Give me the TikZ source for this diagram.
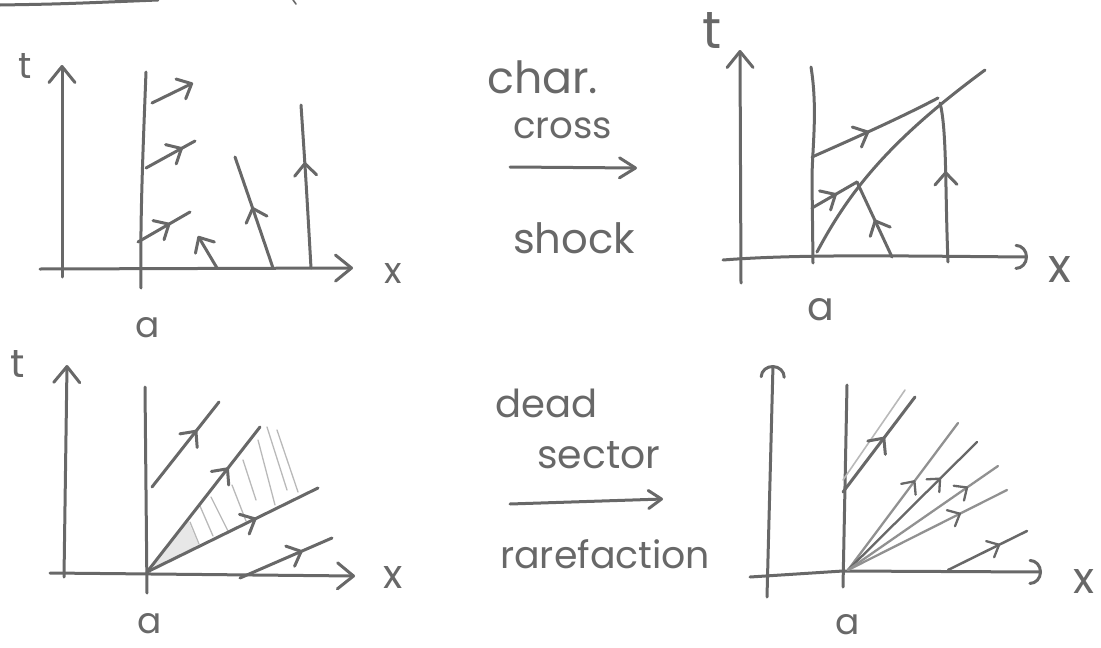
\documentclass[tikz,border=0pt]{standalone}
\usepackage{fontspec}
\usepackage{graphicx}
\newfontfamily\hwfont{Poppins}
\usetikzlibrary{arrows.meta,decorations.markings}
\definecolor{ink}{RGB}{104,104,104}
\definecolor{inklight}{RGB}{145,145,145}
\definecolor{hatch}{RGB}{185,185,185}
\newcommand{\hw}[2]{\resizebox{#1pt}{!}{\hwfont #2}}
\newcommand{\hh}[2]{\resizebox{!}{#1pt}{\hwfont #2}}
\tikzset{
  pen/.style={draw=ink, line width=3pt, line cap=round, line join=round},
  thinpen/.style={draw=inklight, line width=2.3pt, line cap=round},
  hatchpen/.style={draw=hatch, line width=1.3pt, line cap=round},
  axis/.style={pen, -{Straight Barb[length=16pt,width=26pt,round]}},
  axisarc/.style={pen, -{Arc Barb[length=12pt,width=26pt,round]}},
  endarr/.style={pen, -{Straight Barb[length=12pt,width=22pt,round]}},
  midarr/.style={postaction={decorate,decoration={markings,
     mark=at position #1 with {\arrow[ink,line width=3pt]{Straight Barb[length=12pt,width=22pt,round]}}}}},
  smallarr/.style={postaction={decorate,decoration={markings,
     mark=at position #1 with {\arrow[ink,line width=2.3pt]{Straight Barb[length=10pt,width=18pt,round]}}}}},
  lbl/.style={inner sep=0pt, anchor=base west, text=ink}
}
\begin{document}
\begin{tikzpicture}[x=1pt,y=-1pt]
\useasboundingbox (0,0) rectangle (1101,648);

% fragments of cut-off writing at the top
\draw[pen] (0,5) .. controls (60,4) .. (158,0);
\draw[pen, line width=1.6pt] (293,0) -- (296,4);

%%%%%%%%%%%%%%%% top-left panel %%%%%%%%%%%%%%%%
\draw[axis] (62,277) -- (62,65);
\draw[axis] (40,269) -- (353,268);
\node[lbl] (t1) at (18,78) {\hh{25}{t}};
\node[lbl] (x1) at (384,283) {\hh{20}{x}};
\node[lbl] (a1) at (135,337) {\hh{20}{a}};
\draw[pen] (146,72) .. controls (143,150) and (140,220) .. (141,288);
\draw[endarr] (152,103) -- (193,83);
\draw[pen, midarr=0.75] (146,168) -- (195,141);
\draw[pen, midarr=0.62] (138,242) -- (190,212);
\draw[endarr] (217,268) -- (198,236);
\draw[pen, midarr=0.55] (273,268) .. controls (255,215) .. (235,157);
\draw[pen, midarr=0.65] (311,268) .. controls (306,180) .. (301,105);

%%%%%%%%%%%%%%%% top middle text %%%%%%%%%%%%%%%%
\node[lbl] (char) at (487,93) {\hw{111}{char.}};
\node[lbl] (cross) at (513,138) {\hw{99}{cross}};
\coordinate (s1) at (510,167);
\coordinate (e1) at (637,168);
\draw[pen, -{Straight Barb[length=16pt,width=20pt,round]}] (s1) -- (e1);
\node[lbl] (shock) at (513,253) {\hw{122}{shock}};

%%%%%%%%%%%%%%%% top-right panel %%%%%%%%%%%%%%%%
\draw[axis] (741,283) -- (740,50);
\draw[axisarc] (723,260) .. controls (800,254) and (900,256) .. (1028,257);
\node[lbl] (t2) at (702,48) {\hh{36}{t}};
\node[lbl] (x2) at (1048,282) {\hh{26}{x}};
\node[lbl] (a2) at (807,320) {\hh{22}{a}};
\draw[pen] (811,67) .. controls (818,110) and (812,150) .. (812,180) -- (813,263);
% shock curve
\draw[pen] (817,252) .. controls (850,190) and (890,140) .. (985,70);
% upper characteristic
\draw[pen, midarr=0.45] (812,157) .. controls (855,138) and (900,118) .. (938,98);
% lower characteristics meeting the shock
\draw[pen, midarr=0.55] (812,208) -- (857,182);
\draw[pen, midarr=0.5] (892,257) -- (857,182);
% right characteristic
\draw[pen, midarr=0.57] (948,262) .. controls (945,190) and (947,130) .. (940,103);

%%%%%%%%%%%%%%%% bottom-left panel %%%%%%%%%%%%%%%%
\coordinate (O3) at (147,572);
\draw[axis] (64,577) -- (67,365);
\draw[axis] (50,573) -- (355,576);
\node[lbl] (t3) at (10,377) {\hh{27}{t}};
\node[lbl] (x3) at (383,588) {\hh{22}{x}};
\node[lbl] (a3) at (137,633) {\hh{20}{a}};
\draw[pen] (145,387) -- (147,593);
% shaded wedge
\fill[hatch, opacity=0.35] (O3) -- (188,520) -- (199,546) -- cycle;
\draw[hatchpen] (190,522) -- (199,544);
\draw[hatchpen] (200,506) -- (213,536);
\draw[hatchpen] (211,497) -- (228,531);
\draw[hatchpen] (232,485) -- (246,521);
\draw[hatchpen] (243,460) -- (256,500);
\draw[hatchpen] (258,440) -- (275,505);
\draw[hatchpen] (267,427) -- (287,490);
\draw[hatchpen] (277,430) -- (298,492);
\draw[pen, midarr=0.67] (152,487) -- (219,402);
\draw[pen, midarr=0.72] (O3) -- (260,427);
\draw[pen, midarr=0.64] (O3) -- (318,488);
\draw[pen, midarr=0.68] (240,578) -- (332,538);

%%%%%%%%%%%%%%%% bottom middle text %%%%%%%%%%%%%%%%
\node[lbl] (dead) at (495,417) {\hw{102}{dead}};
\node[lbl] (sector) at (537,468) {\hw{123}{sector}};
\coordinate (s2) at (510,504);
\coordinate (e2) at (663,499);
\draw[pen, -{Straight Barb[length=13pt,width=18pt,round]}] (s2) -- (e2);
\node[lbl] (rare) at (500,568) {\hw{210}{rarefaction}};

%%%%%%%%%%%%%%%% bottom-right panel %%%%%%%%%%%%%%%%
\coordinate (O4) at (848,570);
\draw[axisarc] (767,597) -- (773,365);
\draw[axisarc] (750,577) -- (843,571) -- (1042,572);
\node[lbl] (x4) at (1073,593) {\hh{24}{x}};
\node[lbl] (a4) at (835,634) {\hh{20}{a}};
\draw[pen] (847,385) -- (843,587);
\draw[hatchpen, line width=1.6pt] (843,480) -- (905,390);
\draw[pen, midarr=0.58] (843,492) -- (915,397);
\draw[thinpen, smallarr=0.61] (O4) -- (958,423);
\draw[thinpen, draw=ink, smallarr=0.72] (O4) -- (977,442);
\draw[thinpen, smallarr=0.8] (O4) -- (998,466);
\draw[thinpen, smallarr=0.71] (O4) -- (1007,490);
\draw[pen, line width=2.5pt, smallarr=0.66] (948,570) -- (1027,531);
\end{tikzpicture}
\end{document}
